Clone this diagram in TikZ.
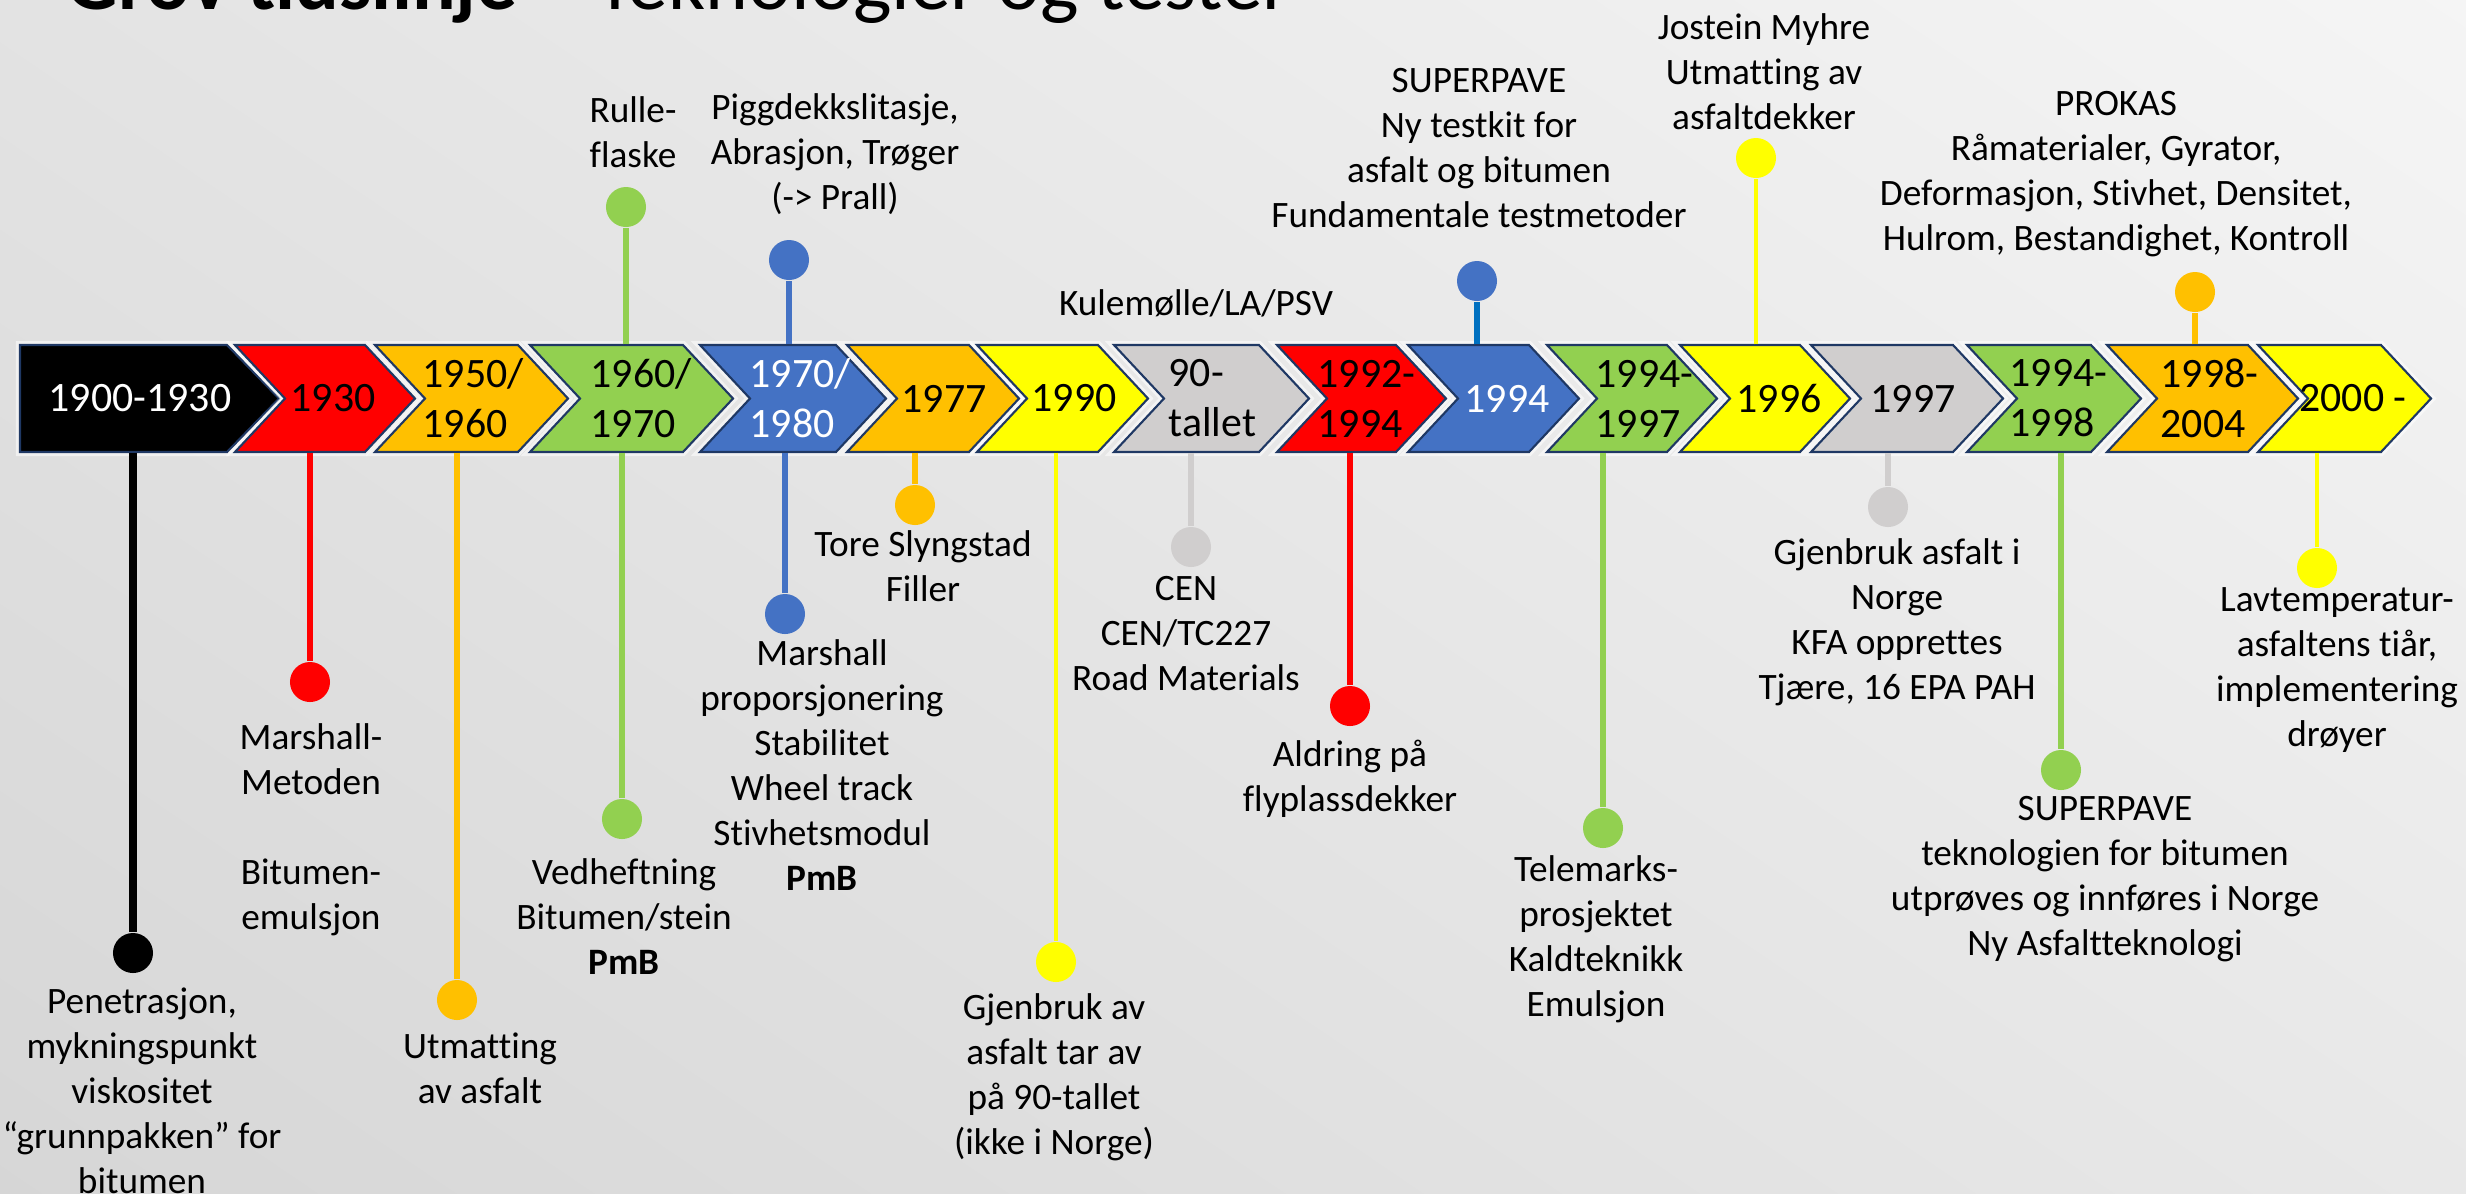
\documentclass[tikz,border=0pt]{standalone}
\usepackage{fontspec}
\setmainfont{Carlito}[Ligatures={TeX,NoCommon}]
\usetikzlibrary{shadings}

\definecolor{cred}{HTML}{FF0000}
\definecolor{corange}{HTML}{FFC000}
\definecolor{cgreen}{HTML}{92D050}
\definecolor{cblue}{HTML}{4472C4}
\definecolor{cbluedark}{HTML}{0070C0}
\definecolor{cyellow}{HTML}{FFFF00}
\definecolor{cgray}{HTML}{D0CECE}
\definecolor{cnavy}{HTML}{1F3864}

\begin{document}
\begin{tikzpicture}[x=0.01cm, y=-0.01cm,
  halo/.style={draw=white, draw opacity=0.55, line width=0.08cm, line join=miter},
  chev/.style={draw=cnavy, line width=0.6pt, line join=miter, preaction={halo}},
  yr/.style={minimum height=1.07cm, inner sep=0pt, align=center,
             font=\fontsize{11.9}{14.2}\selectfont},
  yrl/.style={yr, align=left, anchor=west},
  dot/.style={circle, inner sep=0pt, minimum size=0.4cm},
  stem/.style={line width=0.055cm},
  note/.style={anchor=north, inner sep=0pt, align=center,
               font=\fontsize{10.6}{12.8}\selectfont},
]
\shade[upper left=black!11, upper right=black!4, lower left=black!16, lower right=black!9]
  (0,0) rectangle (2466,1193);
\useasboundingbox (0,0) rectangle (2466,1193);

\node[anchor=base west, inner sep=0pt, font=\fontsize{23.2}{28}\selectfont] (title) at (66,9)
  {\textbf{Grov tidslinje} – Teknologier og tester};

% chevron row
\draw[chev, fill=black] (20,345) -- (227,345) -- (279,398.5) -- (227,452) -- (20,452) -- cycle;
\foreach \l/\t/\c in {235/415/cred, 375/568/corange, 530/733/cgreen, 700/886/cblue,
    847/1019/corange, 977/1148/cyellow, 1114/1309/cgray, 1277/1446/cred,
    1408/1579/cblue, 1547/1717/cgreen, 1680/1850/cyellow, 1811/2003/cgray,
    1967/2141/cgreen, 2107/2298/corange, 2258/2431/cyellow}
  \draw[chev, fill=\c] (\l,345) -- ({\t-50},345) -- (\t,398.5) -- ({\t-50},452)
    -- (\l,452) -- ({\l+50},398.5) -- cycle;

\node[yr, text=white] (y1900) at (140,398.5) {1900-1930};
\node[yr] (y1930) at (333,398.5) {1930};
\node[yrl] (y1950) at (422,398.5) {1950/\\1960};
\node[yrl] (y1960) at (590,398.5) {1960/\\1970};
\node[yrl, text=white] (y1970) at (749,398.5) {1970/\\1980};
\node[yr] (y1977) at (944,398.5) {1977};
\node[yr] (y1990) at (1074,398.5) {1990};
\node[yrl] (y90) at (1168,398.5) {90-\\tallet};
\node[yrl] (y1992) at (1317,398.5) {1992-\\1994};
\node[yr, text=white] (y1994) at (1507,398.5) {1994};
\node[yrl] (y1994b) at (1595,398.5) {1994-\\1997};
\node[yr] (y1996) at (1779,398.5) {1996};
\node[yr] (y1997) at (1913,398.5) {1997};
\node[yrl] (y1994c) at (2009,398.5) {1994-\\1998};
\node[yrl] (y1998) at (2160,398.5) {1998-\\2004};
\node[yr] (y2000) at (2353,398.5) {2000 -};

% dots
\node[dot, fill=black]     (d1900)   at (133,953)  {};
\node[dot, fill=cred]      (d1930)   at (310,682)  {};
\node[dot, fill=corange]   (d1950)   at (457,1000) {};
\node[dot, fill=cgreen]    (d1960up) at (626,207)  {};
\node[dot, fill=cgreen]    (d1960)   at (622,819)  {};
\node[dot, fill=cblue]     (d1970up) at (789,260)  {};
\node[dot, fill=cblue]     (d1970)   at (785,614)  {};
\node[dot, fill=corange]   (d1977)   at (915,505)  {};
\node[dot, fill=cyellow]   (d1990)   at (1056,962) {};
\node[dot, fill=cgray]     (d90)     at (1191,547) {};
\node[dot, fill=cred]      (d1992)   at (1350,706) {};
\node[dot, fill=cblue]     (d1994up) at (1477,281) {};
\node[dot, fill=cgreen]    (d1994b)  at (1603,828) {};
\node[dot, fill=cyellow]   (d1996up) at (1756,158) {};
\node[dot, fill=cgray]     (d1997)   at (1888,507) {};
\node[dot, fill=cgreen]    (d1994c)  at (2061,770) {};
\node[dot, fill=corange]   (d1998up) at (2195,292) {};
\node[dot, fill=cyellow]   (d2000)   at (2317,568) {};

% stems
\draw[stem, black, line width=0.07cm] (y1900.south -| d1900) -- (d1900);
\draw[stem, cred]      (y1930.south -| d1930) -- (d1930);
\draw[stem, corange]   (y1950.south -| d1950) -- (d1950);
\draw[stem, cgreen]    (y1960.north -| d1960up) -- (d1960up);
\draw[stem, cgreen]    (y1960.south -| d1960) -- (d1960);
\draw[stem, cblue]     (y1970.north -| d1970up) -- (d1970up);
\draw[stem, cblue]     (y1970.south -| d1970) -- (d1970);
\draw[stem, corange]   (y1977.south -| d1977) -- (d1977);
\draw[stem, cyellow, line width=0.045cm] (y1990.south -| d1990) -- (d1990);
\draw[stem, cgray, line width=0.065cm]   (y90.south -| d90) -- (d90);
\draw[stem, cred]      (y1992.south -| d1992) -- (d1992);
\draw[stem, cbluedark] (y1994.north -| d1994up) -- (d1994up);
\draw[stem, cgreen]    (y1994b.south -| d1994b) -- (d1994b);
\draw[stem, cyellow, line width=0.045cm] (y1996.north -| d1996up) -- (d1996up);
\draw[stem, cgray, line width=0.065cm]   (y1997.south -| d1997) -- (d1997);
\draw[stem, cgreen]    (y1994c.south -| d1994c) -- (d1994c);
\draw[stem, corange]   (y1998.north -| d1998up) -- (d1998up);
\draw[stem, cyellow, line width=0.045cm] (y2000.south -| d2000) -- (d2000);

% texts
\node[note] (t1900)   at (142,987)  {Penetrasjon,\\mykningspunkt\\viskositet\\“grunnpakken” for\\bitumen};
\node[note] (t1930)   at (311,723)  {Marshall-\\Metoden\\[0.45cm]Bitumen-\\emulsjon};
\node[note] (t1950)   at (480,1032) {Utmatting\\av asfalt};
\node[note] (t1960up) at (633,96)   {Rulle-\\flaske};
\node[note] (t1960)   at (624,858)  {Vedheftning\\Bitumen/stein\\\textbf{PmB}};
\node[note] (t1970up) at (835,93)   {Piggdekkslitasje,\\Abrasjon, Trøger\\(-> Prall)};
\node[note] (t1970)   at (822,639)  {Marshall\\proporsjonering\\Stabilitet\\Wheel track\\Stivhetsmodul\\\textbf{PmB}};
\node[note] (t1977)   at (923,530)  {Tore Slyngstad\\Filler};
\node[note] (t1990)   at (1054,993) {Gjenbruk av\\asfalt tar av\\på 90-tallet\\(ikke i Norge)};
\node[note] (t90up)   at (1196,289) {Kulemølle/LA/PSV};
\node[note] (t90)     at (1186,576) {CEN\\CEN/TC227\\Road Materials};
\node[note] (t1992)   at (1350,739) {Aldring på\\flyplassdekker};
\node[note] (t1994up) at (1479,68)  {SUPERPAVE\\Ny testkit for\\asfalt og bitumen\\Fundamentale testmetoder};
\node[note] (t1994b)  at (1596,855) {Telemarks-\\prosjektet\\Kaldteknikk\\Emulsjon};
\node[note] (t1996up) at (1764,13)  {Jostein Myhre\\Utmatting av\\asfaltdekker};
\node[note] (t1997)   at (1897,538) {Gjenbruk asfalt i\\Norge\\KFA opprettes\\Tjære, 16 EPA PAH};
\node[note] (t1994c)  at (2105,796) {SUPERPAVE\\teknologien for bitumen\\utprøves og innføres i Norge\\Ny Asfaltteknologi};
\node[note] (t1998up) at (2116,91)  {PROKAS\\Råmaterialer, Gyrator,\\Deformasjon, Stivhet, Densitet,\\Hulrom, Bestandighet, Kontroll};
\node[note] (t2000)   at (2337,587) {Lavtemperatur-\\asfaltens tiår,\\implementering\\drøyer};
\end{tikzpicture}
\end{document}
